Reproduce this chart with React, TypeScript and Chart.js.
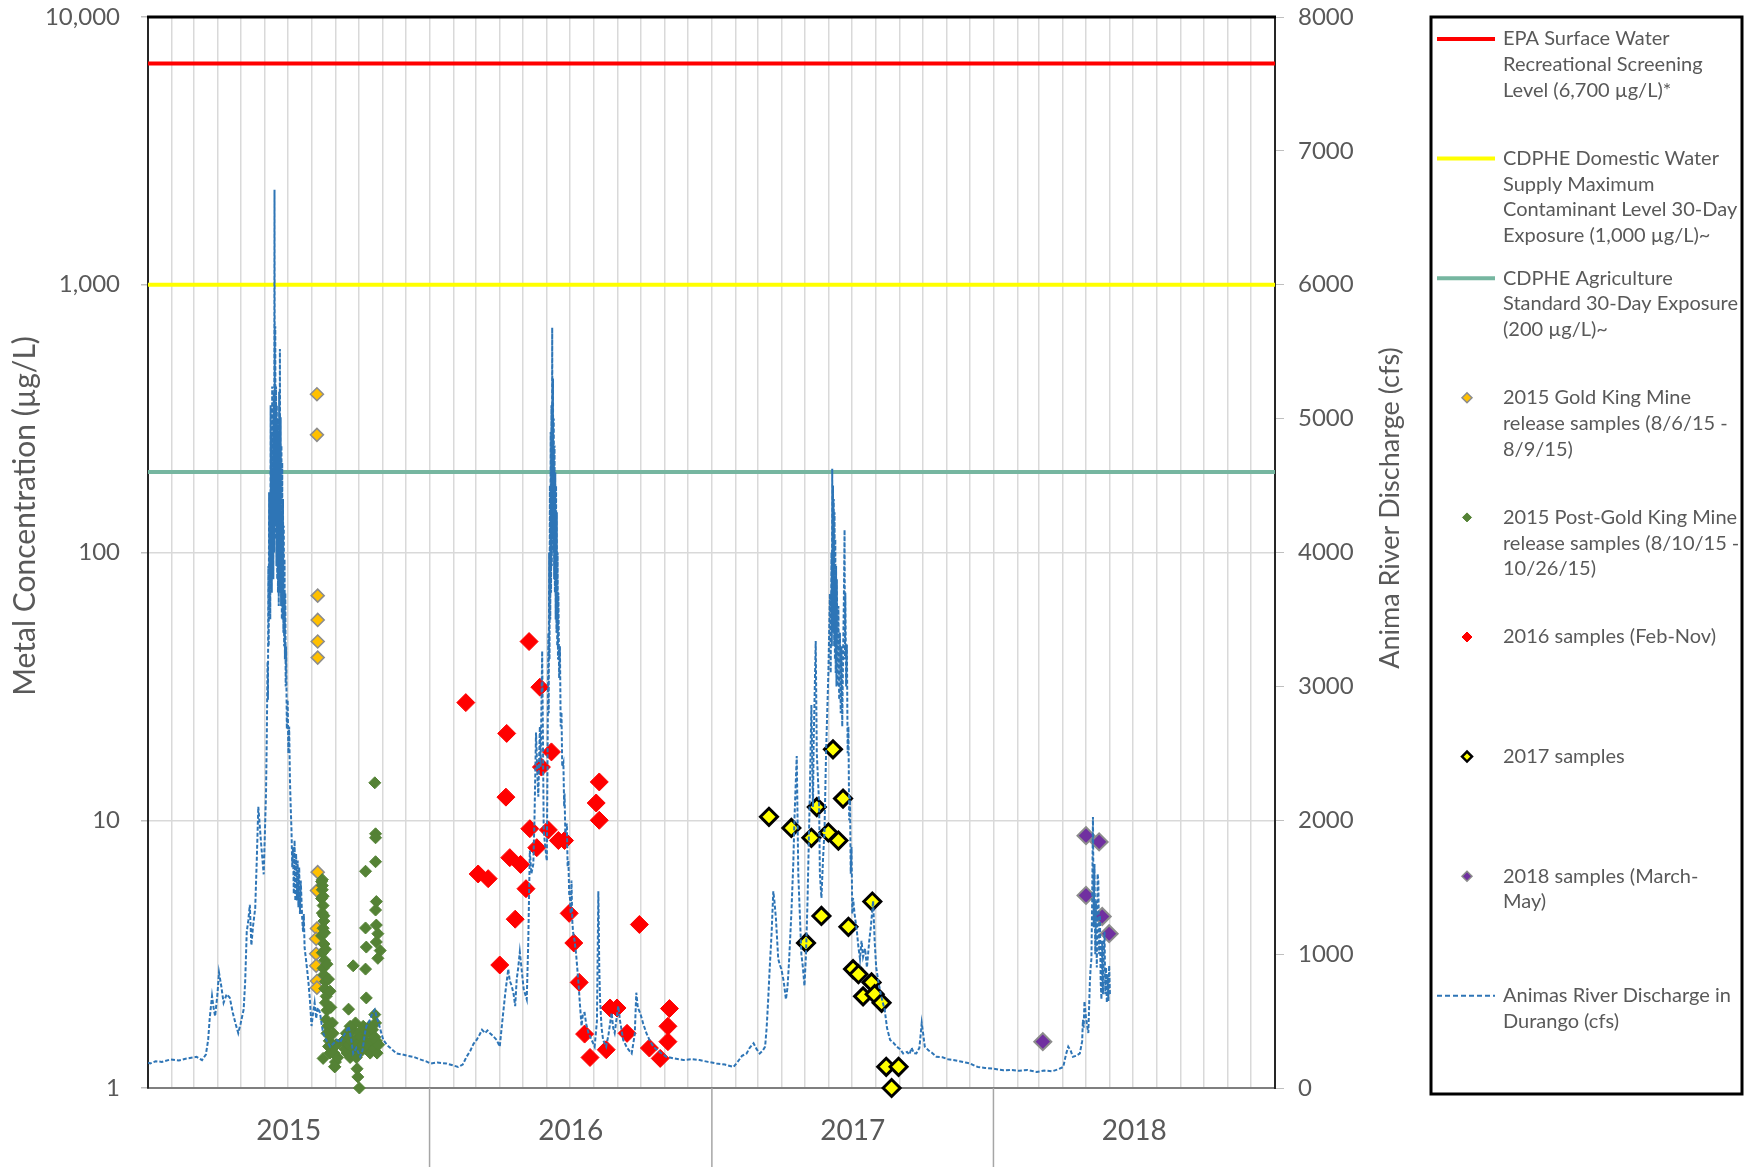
import React, { useEffect, useRef } from "react";
import { Chart, registerables } from "chart.js";

Chart.register(...registerables);

// ---------------- DATA ----------------
// x values are days since 1 Jan 2015
const yearLabels = ["2015", "2016", "2017", "2018"];
const leftTickValues = [1, 10, 100, 1000, 10000];
const rightTickStep = 1000;

const referenceLevels = [6700, 1000, 200];
const referenceColors = ["#FF0000", "#FFFF00", "#76B6A0"];
const referenceLegend = [
  ["EPA Surface Water", "Recreational Screening", "Level (6,700 µg/L)*"],
  ["CDPHE Domestic Water", "Supply Maximum", "Contaminant Level 30-Day", "Exposure (1,000 µg/L)~"],
  ["CDPHE Agriculture", "Standard 30-Day Exposure", "(200 µg/L)~"],
];

const goldKingSamples: [number, number][] = [
  [219, 390], [219, 275], [220, 69], [220, 56], [220, 46.5], [220, 40.5],
  [220, 6.4], [219, 5.46], [219, 3.94], [218, 3.61], [218, 3.17], [218, 2.86], [219, 2.51], [219, 2.37],
];

const postGoldKingSamples: [number, number][] = [
  [225, 5.9], [226, 5.5], [225, 5.1], [227, 4.8], [226, 4.5], [228, 4.2], [227, 3.95], [225, 3.7],
  [228, 3.45], [226, 3.2], [229, 3.0], [227, 2.8], [228, 2.65], [230, 2.5], [229, 2.35], [231, 2.2],
  [230, 2.08], [232, 1.95], [231, 1.8], [233, 1.7], [232, 1.6], [235, 1.5], [234, 1.43], [236, 1.35],
  [227, 1.29], [238, 1.45], [240, 1.6], [241, 1.35], [243, 1.25], [242, 1.2], [244, 1.45], [246, 1.3],
  [239, 1.75], [237, 2.0], [236, 2.3], [234, 2.55], [232, 2.9], [230, 3.3], [229, 3.8], [228, 4.4],
  [227, 5.2], [226, 5.7], [226, 6.0],
  [253, 1.5], [255, 1.4], [257, 1.6], [258, 1.35], [260, 1.45], [261, 1.55], [262, 1.3], [264, 1.5],
  [265, 1.65], [266, 1.4], [268, 1.5], [270, 1.3], [271, 1.45], [273, 1.6], [274, 1.35], [276, 1.55],
  [278, 1.45], [279, 1.7], [281, 1.5], [283, 1.4], [284, 1.6], [286, 1.45], [288, 1.35], [290, 1.5],
  [291, 1.65], [293, 1.4], [294, 1.55], [296, 1.5], [297, 1.35], [299, 1.45], [295, 1.75], [287, 1.7],
  [269, 1.75], [262, 1.7],
  [294, 13.8], [295, 8.9], [295, 8.6], [295, 7.0], [282, 6.45], [296, 4.97], [295, 4.62], [282, 3.96],
  [296, 4.06], [298, 3.77], [283, 3.36], [296, 3.51], [301, 3.26], [298, 3.05], [266, 2.86], [282, 2.78],
  [283, 2.17], [260, 1.97], [294, 1.88], [271, 1.18], [272, 1.1], [274, 1.0], [242, 1.2],
];

const samples2016: [number, number][] = [
  [412, 27.5], [428, 6.3], [441, 6.05], [456, 2.88], [464, 12.2], [465, 21.1], [469, 7.25], [476, 4.27],
  [483, 6.84], [490, 5.55], [494, 46.5], [495, 9.3], [504, 7.9], [508, 31.4], [510, 15.8], [519, 9.2],
  [523, 18.0], [532, 8.4], [540, 8.4], [546, 4.49], [552, 3.48], [559, 2.48], [566, 1.59], [573, 1.3],
  [581, 11.6], [585, 13.9], [585, 10.0], [594, 1.39], [599, 1.99], [608, 1.99], [621, 1.6], [637, 4.08],
  [650, 1.41], [664, 1.29], [674, 1.7], [674, 1.49], [676, 1.98],
];

const samples2017: [number, number][] = [
  [805, 10.3], [834, 9.36], [853, 3.48], [860, 8.6], [867, 11.2], [873, 4.39], [882, 9.0], [888, 18.4],
  [895, 8.4], [901, 12.05], [908, 4.0], [914, 2.78], [921, 2.66], [927, 2.2], [939, 4.97], [938, 2.48],
  [942, 2.24], [951, 2.08], [957, 1.2], [973, 1.2], [964, 1.0],
];

const samples2018: [number, number][] = [
  [1160, 1.49], [1216, 8.76], [1233, 8.3], [1216, 5.24], [1237, 4.37], [1246, 3.77],
];

// Animas River discharge in Durango (cfs)
const discharge: [number, number][] = [
  [0, 190], [3, 183], [10, 200], [18, 195], [29, 213], [40, 205], [50, 220], [63, 233], [70, 208],
  [75, 250], [78, 359], [80, 520], [83, 687], [85, 600], [87, 536], [90, 700], [92, 864], [95, 760],
  [98, 637], [102, 700], [106, 675], [110, 560], [114, 470], [117, 410], [120, 480], [124, 586],
  [126, 800], [128, 1167], [130, 1250], [132, 1369], [134, 1066], [136, 1200], [139, 1344], [141, 1700],
  [143, 2101], [145, 1950], [147, 1798], [150, 1596], [153, 2202], [154, 2631],
  [155, 3186], [155.5, 2900], [156, 3900], [156.5, 3300], [157, 4450], [157.5, 3600], [158, 4300],
  [158.5, 3500], [159, 5100], [159.5, 3800], [160, 4900], [160.5, 3700], [161, 5240], [161.5, 3900],
  [162, 5000], [162.5, 3800], [163, 5200], [163.5, 4000], [164, 6710], [164.5, 4200], [165, 5690],
  [165.5, 4100], [166, 5240], [166.5, 3900], [167, 5100], [167.5, 3800], [168, 5000], [168.5, 3700],
  [169, 4900], [169.5, 3600], [170, 5200], [170.5, 3700], [171, 5520], [171.5, 3800], [172, 5010],
  [172.5, 3600], [173, 4800], [173.5, 3500], [174, 4670], [174.5, 3500], [175, 4400], [175.5, 3400],
  [176, 4200], [176.5, 3300], [177, 3950], [177.5, 3200], [178, 3700], [178.5, 3000], [179, 3300],
  [180, 2681], [181, 2900], [182, 2500], [183, 2700], [184, 2302], [185, 2100], [186, 1927], [187, 1650],
  [188, 1800], [189, 1450], [190, 1850], [191, 1397], [192, 1750], [193, 1400], [194, 1700], [195, 1350],
  [196, 1650], [197, 1300], [198, 1550], [199, 1400], [200, 1250], [201, 1167], [202, 1300], [203, 1050],
  [204, 1000], [206, 900], [208, 789], [210, 650], [212, 463], [214, 560], [216, 637], [218, 520],
  [220, 600], [223, 561], [225, 480], [227, 411], [230, 370], [233, 340], [236, 309], [240, 330],
  [245, 359], [249, 340], [253, 385], [257, 420], [260, 460], [263, 380], [266, 258], [270, 300],
  [275, 233], [278, 280], [281, 400], [283, 460], [287, 500], [291, 560], [294, 586], [297, 520],
  [299, 485], [302, 420], [305, 359], [310, 320], [316, 290], [322, 258], [330, 250], [337, 240],
  [344, 233], [352, 215], [360, 200], [366, 183], [375, 190], [387, 183], [395, 170], [402, 157],
  [408, 175], [413, 233], [418, 280], [422, 330], [426, 359], [430, 400], [433, 435], [437, 410],
  [440, 430], [443, 411], [447, 390], [452, 359], [456, 309],
  [460, 537], [463, 700], [467, 888], [469, 800], [471.5, 763], [474, 700], [476, 612], [478, 814],
  [480, 900], [482, 1016], [485, 850], [487, 739], [489, 700], [491, 662], [493, 1100], [495, 1773],
  [497, 1600], [499.5, 1673], [501, 2000], [503, 2656], [505, 2300], [506, 2176], [508, 2700], [509, 2400],
  [511, 3264], [512, 2600], [513, 1924], [515, 1800], [517, 1697], [518, 2500], [519, 3400], [519.5, 2800],
  [520, 4000], [520.5, 3200], [521, 4500], [521.5, 3500], [522, 4900], [522.5, 3700], [523, 5100],
  [523.5, 3900], [524, 5680], [524.5, 4100], [525, 5300], [525.5, 4000], [526, 5000], [526.5, 3800],
  [527, 4800], [527.5, 3700], [528, 4600], [528.5, 3500], [529, 4500], [529.5, 3400], [530, 4300],
  [530.5, 3300], [531, 4000], [531.5, 3200], [532, 3700], [533, 3062], [534, 3300], [535, 2700],
  [536, 2808], [537, 2400], [538.5, 2429], [539.5, 2100], [540, 2200], [541, 1900], [543, 1975],
  [544, 1650], [545, 1700], [546, 1450], [547, 1419], [548, 1300], [549, 1550], [550, 1250], [551, 1167],
  [553, 1100], [555, 1000], [558, 789], [560, 620], [562, 463], [564, 560], [566, 561], [568, 480],
  [571, 411], [575, 360], [579, 309], [582, 500], [583.8, 1470], [585, 900], [586, 662], [588, 450],
  [590, 359], [594, 309], [597, 400], [601, 561], [603, 450], [605, 411], [607, 500], [609.7, 612],
  [612, 500], [616, 359], [621, 300], [627, 258], [631, 400], [633, 712], [635, 600], [638, 561],
  [642, 480], [646, 411], [650, 360], [655, 309], [663, 270], [672, 233], [683, 220], [694, 209],
  [705, 215], [715, 209], [726, 195], [737, 183], [748, 175], [759, 157], [765, 200], [770, 240],
  [776, 258], [780, 300], [785, 334], [789, 290], [793, 258], [797, 280], [800, 309], [802, 450],
  [804, 662], [806, 900], [808.5, 1167], [810.6, 1470], [812, 1400], [814, 1268], [817, 965], [819, 920],
  [821, 890], [824, 800], [827, 662], [829, 750], [831, 941], [834, 1300], [836.5, 1673], [838, 2000],
  [841, 2480], [843, 1600], [845, 1300], [847, 1000], [849, 900], [851, 763], [853, 1000], [855, 1400],
  [856, 1673], [858, 2200], [860, 2860], [862, 2100], [863, 2600], [865.6, 3338], [867, 2500], [870, 2126],
  [871, 1600], [873, 1419], [875, 1700], [877, 1924], [879, 2500], [882, 3100], [884, 3691], [885, 3100],
  [886, 4000], [886.5, 3300], [887, 4625], [887.5, 3500], [888, 4500], [888.5, 3400], [889, 4400],
  [889.5, 3300], [890, 4300], [890.5, 3200], [891, 4100], [891.5, 3100], [892, 3900], [892.5, 3000],
  [893, 3800], [894, 3000], [895, 3600], [896, 2900], [897, 3400], [898, 2800], [899, 3300], [900, 2700],
  [901, 3200], [902, 3600], [903, 4170], [903.5, 3200], [904, 3700], [905, 3000], [906, 3312], [907, 2500],
  [908, 2700], [909, 2000], [910, 2176], [911, 1600], [912, 1800], [913, 1300], [914, 1419], [916, 1300],
  [919, 1167], [921, 1050], [923, 965], [925, 1100], [927, 980], [929.6, 1040], [932, 900], [935, 1100],
  [937, 1200], [940, 1397], [942, 1100], [944, 900], [947, 789], [950, 700], [952, 650], [955, 586],
  [958, 450], [962, 359], [966, 340], [970.6, 309], [975, 290], [979, 258], [984, 270], [987, 250],
  [990, 300], [991, 284], [993, 260], [996, 258], [1000, 300], [1002, 420], [1003, 485], [1005, 400],
  [1007, 309], [1012, 280], [1017, 260], [1022, 233], [1030, 230], [1037, 215], [1044, 209], [1052, 200],
  [1060, 190], [1066, 183], [1072, 165], [1076, 157], [1085, 150], [1095, 145], [1109, 132], [1120, 135],
  [1130, 128], [1140, 135], [1152, 120], [1162, 130], [1172, 125], [1180, 140], [1186.5, 157], [1190, 250],
  [1193, 309], [1196, 280], [1199, 233], [1203, 240], [1208, 258], [1211, 350], [1212, 510], [1213, 450],
  [1214, 648], [1216, 520], [1219, 411], [1220, 600], [1221, 789], [1222, 900], [1223, 965], [1224, 1400],
  [1225, 2025], [1226, 1200], [1227, 1673], [1228, 1000], [1229, 1400], [1230, 900], [1231, 1600],
  [1232, 1546], [1233, 1000], [1234, 1293], [1235, 800], [1236, 662], [1237, 1100], [1238, 700],
  [1239, 1000], [1240, 1167], [1241, 700], [1242, 900], [1243, 637], [1244, 850], [1245, 650],
  [1246, 915], [1247, 700],
];

const sampleLegend = [
  ["2015 Gold King Mine", "release samples (8/6/15 -", "8/9/15)"],
  ["2015 Post-Gold King Mine", "release samples (8/10/15 -", "10/26/15)"],
  ["2016 samples (Feb-Nov)"],
  ["2017 samples"],
  ["2018 samples (March-", "May)"],
];
const dischargeLegend = ["Animas River Discharge in", "Durango (cfs)"];
const leftTitle = "Metal Concentration (µg/L)";
const rightTitle = "Anima River Discharge (cfs)";

// ---------------- HELPERS ----------------
const FONT = "Lato";
const TEXT = "#595959";
const dayOf = (y: number, m: number, d: number) =>
  (Date.UTC(y, m, d) - Date.UTC(2015, 0, 1)) / 86400000;
const X_MAX = dayOf(2019, 0, 1);
const monthStarts: number[] = [];
for (let y = 2015; y <= 2018; y++) for (let m = 0; m < 12; m++) monthStarts.push(dayOf(y, m, 1));
monthStarts.push(X_MAX);
const yearStarts = [dayOf(2016, 0, 1), dayOf(2017, 0, 1), dayOf(2018, 0, 1)];
const yearMids = yearLabels.map((_, i) => (dayOf(2015 + i, 0, 1) + dayOf(2016 + i, 0, 1)) / 2);

const toXY = (arr: [number, number][]) => arr.map(([x, y]) => ({ x, y }));

const sampleStyles = [
  { data: goldKingSamples, bg: "#FFC000", border: "#8C8C8C", bw: 1.5, r: 6.5, lr: 5, lbw: 1.5 },
  { data: postGoldKingSamples, bg: "#548235", border: "#548235", bw: 1, r: 6, lr: 4.5, lbw: 1 },
  { data: samples2016, bg: "#FF0000", border: "#FF0000", bw: 1, r: 9, lr: 5, lbw: 1 },
  { data: samples2017, bg: "#FFFF00", border: "#000000", bw: 3, r: 8.5, lr: 5, lbw: 2.5 },
  { data: samples2018, bg: "#7030A0", border: "#8C8C8C", bw: 2, r: 8.5, lr: 5, lbw: 1.5 },
];

const decorations = {
  id: "decorations",
  afterDraw(chart: any) {
    const { ctx, chartArea: ca, scales } = chart;
    const xs = scales.x;
    ctx.save();
    // top border
    ctx.strokeStyle = "#000000";
    ctx.lineWidth = 3;
    ctx.beginPath();
    ctx.moveTo(ca.left - 1, ca.top);
    ctx.lineTo(ca.right + 1, ca.top);
    ctx.stroke();
    // year separators below axis
    ctx.strokeStyle = "#A6A6A6";
    ctx.lineWidth = 1.5;
    yearStarts.forEach((d) => {
      const px = xs.getPixelForValue(d);
      ctx.beginPath();
      ctx.moveTo(px, ca.bottom);
      ctx.lineTo(px, chart.height);
      ctx.stroke();
    });
    // year labels
    ctx.fillStyle = TEXT;
    ctx.font = `28px ${FONT}`;
    ctx.textAlign = "center";
    ctx.textBaseline = "middle";
    yearLabels.forEach((t, i) => ctx.fillText(t, xs.getPixelForValue(yearMids[i]), 1131));
    // axis titles
    ctx.font = `30px ${FONT}`;
    ctx.save();
    ctx.translate(25, 516);
    ctx.rotate(-Math.PI / 2);
    ctx.fillText(leftTitle, 0, 0);
    ctx.restore();
    ctx.font = `27px ${FONT}`;
    ctx.save();
    ctx.translate(1390, 508);
    ctx.rotate(-Math.PI / 2);
    ctx.fillText(rightTitle, 0, 0);
    ctx.restore();

    // legend box
    ctx.strokeStyle = "#000000";
    ctx.lineWidth = 3;
    ctx.strokeRect(1431, 17, 311, 1077);
    const items: { lines: string[]; draw: (y: number) => void }[] = [];
    referenceLegend.forEach((lines, i) =>
      items.push({
        lines,
        draw: (y) => {
          ctx.strokeStyle = referenceColors[i];
          ctx.lineWidth = 4;
          ctx.setLineDash([]);
          ctx.beginPath();
          ctx.moveTo(1437, y);
          ctx.lineTo(1495, y);
          ctx.stroke();
        },
      })
    );
    sampleLegend.forEach((lines, i) =>
      items.push({
        lines,
        draw: (y) => {
          const s = sampleStyles[i];
          const r = s.lr;
          const cx = 1467;
          ctx.beginPath();
          ctx.moveTo(cx - r, y);
          ctx.lineTo(cx, y - r);
          ctx.lineTo(cx + r, y);
          ctx.lineTo(cx, y + r);
          ctx.closePath();
          ctx.fillStyle = s.bg;
          ctx.fill();
          ctx.strokeStyle = s.border;
          ctx.lineWidth = s.lbw;
          ctx.stroke();
        },
      })
    );
    items.push({
      lines: dischargeLegend,
      draw: (y) => {
        ctx.strokeStyle = "#2E75B6";
        ctx.lineWidth = 2;
        ctx.setLineDash([5, 3]);
        ctx.beginPath();
        ctx.moveTo(1437, y);
        ctx.lineTo(1495, y);
        ctx.stroke();
        ctx.setLineDash([]);
      },
    });
    ctx.font = `20px ${FONT}`;
    ctx.textAlign = "left";
    ctx.textBaseline = "middle";
    items.forEach((it, i) => {
      const y0 = 39 + i * 119.6;
      it.draw(y0);
      ctx.fillStyle = TEXT;
      it.lines.forEach((ln, k) => ctx.fillText(ln, 1503, y0 + k * 25.7));
    });
    ctx.restore();
  },
};

export default function App() {
  const ref = useRef<HTMLCanvasElement | null>(null);
  useEffect(() => {
    document.body.style.margin = "0";
    const canvas = ref.current;
    if (!canvas) return;
    const datasets: any[] = [];
    datasets.push({
      type: "line",
      label: "discharge",
      data: toXY(discharge),
      yAxisID: "y1",
      borderColor: "#2E75B6",
      borderWidth: 2,
      borderDash: [4, 2],
      pointRadius: 0,
      tension: 0,
      order: 0,
    });
    sampleStyles.forEach((s, i) =>
      datasets.push({
        type: "scatter",
        label: "s" + i,
        data: toXY(s.data),
        yAxisID: "y",
        pointStyle: "rectRot",
        pointRadius: s.r,
        pointBackgroundColor: s.bg,
        pointBorderColor: s.border,
        pointBorderWidth: s.bw,
        clip: false,
        order: 5 - i,
      })
    );
    referenceLevels.forEach((v, i) =>
      datasets.push({
        type: "line",
        label: "ref" + i,
        data: [
          { x: 0, y: v },
          { x: X_MAX, y: v },
        ],
        yAxisID: "y",
        borderColor: referenceColors[i],
        borderWidth: 4,
        pointRadius: 0,
        order: 10 + i,
      })
    );

    const noPad = (s: any) => {
      s.paddingTop = 0;
      s.paddingBottom = 0;
    };

    const chart = new Chart(canvas, {
      type: "line",
      data: { datasets },
      plugins: [decorations],
      options: {
        responsive: false,
        animation: false,
        devicePixelRatio: 1,
        layout: { padding: { top: 17, left: 0, right: 0, bottom: 0 } },
        plugins: { legend: { display: false }, tooltip: { enabled: false }, title: { display: false } },
        scales: {
          x: {
            type: "linear",
            position: "bottom",
            min: 0,
            max: X_MAX,
            afterBuildTicks: (s: any) => {
              s.ticks = monthStarts.map((v) => ({ value: v }));
            },
            afterFit: (s: any) => {
              s.height = 79;
              s.paddingLeft = 0;
              s.paddingRight = 0;
            },
            ticks: { display: false },
            grid: { color: "#D9D9D9", lineWidth: 1.5, drawTicks: false },
            border: { display: true, color: "#7F7F7F", width: 2 },
          },
          y: {
            type: "logarithmic",
            position: "left",
            min: 1,
            max: 10000,
            afterBuildTicks: (s: any) => {
              s.ticks = leftTickValues.map((v) => ({ value: v }));
            },
            afterFit: (s: any) => {
              s.width = 148;
              noPad(s);
            },
            ticks: {
              color: TEXT,
              font: { family: FONT, size: 24 },
              padding: 21,
              callback: (v: any) => Number(v).toLocaleString("en-US"),
            },
            grid: { color: "#D9D9D9", lineWidth: 1.5, tickLength: 7, tickColor: "#BFBFBF" },
            border: { color: "#262626", width: 2 },
          },
          y1: {
            type: "linear",
            position: "right",
            min: 0,
            max: 8000,
            afterFit: (s: any) => {
              s.width = 475;
              noPad(s);
            },
            ticks: {
              stepSize: rightTickStep,
              color: TEXT,
              font: { family: FONT, size: 24 },
              padding: 14,
              callback: (v: any) => String(v),
            },
            grid: { drawOnChartArea: false, tickLength: 9, tickColor: "#BFBFBF" },
            border: { color: "#262626", width: 2 },
          },
        },
      } as any,
    });
    return () => chart.destroy();
  }, []);
  return <canvas ref={ref} width={1750} height={1167} style={{ display: "block" }} />;
}
